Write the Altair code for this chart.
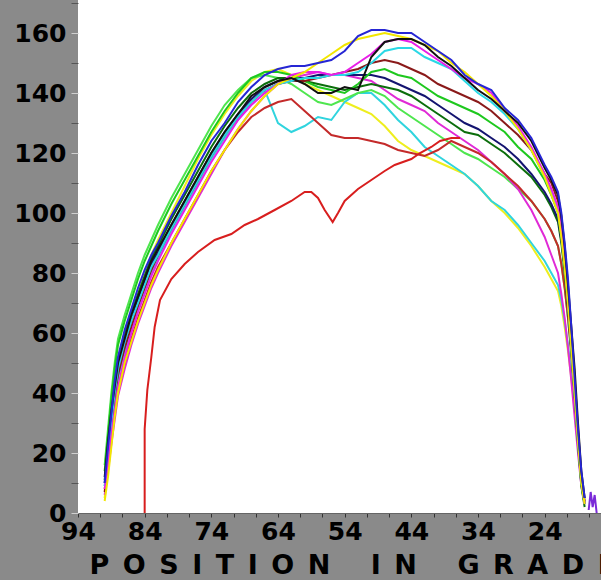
import altair as alt
import pandas as pd

# shared x grid (position in grad), decreasing
X = [90, 89.5, 89, 88.5, 88, 87, 86, 85, 84, 83, 82, 80, 78, 76, 74, 72, 70, 68, 66, 64,
     62, 60, 58, 56, 54, 52, 50, 48, 46, 44, 42, 40, 38, 36, 34, 32, 30, 28, 26, 24,
     23, 22, 21.5, 21, 20.5, 20, 19.5, 19, 18.5, 18]

blue = [10, 22, 33, 44, 52, 61, 68, 75, 81, 86, 90, 99, 107, 116, 124, 130, 137, 142, 146, 148,
        149, 149, 150, 151, 154, 159, 161, 161, 160, 160, 157, 154, 151, 146, 143, 141, 135, 131, 125, 116,
        112, 107, 100, 90, 78, 62, 45, 28, 14, 5]
black = [12, 24, 34, 42, 50, 58, 66, 72, 78, 84, 88, 96, 104, 112, 120, 127, 133, 139, 142, 144,
         145, 143, 140, 140, 142, 141, 152, 157, 158, 158, 156, 152, 149, 145, 141, 138, 134, 130, 124, 115,
         111, 106, 99, 89, 76, 62, 48, 30, 14, 5]
yellow = [4, 12, 22, 32, 40, 50, 57, 64, 70, 76, 81, 90, 98, 106, 114, 121, 128, 134, 139, 143,
          145, 147, 150, 153, 156, 158, 159, 160, 159, 158, 156, 154, 150, 147, 143, 139, 134, 128, 121, 112,
          106, 100, 92, 82, 70, 55, 40, 24, 10, 3]
magenta = [8, 16, 26, 34, 42, 52, 60, 67, 73, 79, 84, 93, 101, 109, 117, 124, 131, 136, 140, 143,
           146, 147, 147, 146, 147, 150, 153, 157, 158, 157, 154, 151, 148, 145, 143, 140, 134, 129, 122, 113,
           108, 102, 94, 84, 71, 57, 41, 25, 11, 3]
cyan = [9, 19, 30, 40, 48, 57, 64, 70, 76, 82, 86, 95, 103, 111, 119, 126, 132, 137, 141, 143,
        144, 145, 145, 146, 146, 147, 150, 154, 155, 155, 152, 150, 148, 144, 140, 137, 133, 128, 121, 112,
        107, 101, 93, 83, 70, 55, 40, 24, 10, 3]
brown = [7, 17, 28, 38, 46, 55, 62, 69, 75, 81, 86, 95, 103, 111, 119, 126, 132, 137, 141, 143,
         144, 144, 145, 146, 147, 148, 150, 151, 150, 148, 146, 143, 141, 139, 137, 134, 130, 126, 121, 113,
         110, 104, 97, 87, 74, 60, 44, 27, 12, 4]
green = [14, 26, 38, 48, 56, 64, 71, 78, 84, 89, 94, 103, 111, 119, 127, 134, 140, 145, 147, 147,
         146, 144, 142, 141, 140, 143, 147, 148, 146, 145, 142, 139, 137, 135, 133, 130, 127, 122, 118, 111,
         106, 100, 92, 82, 70, 56, 40, 24, 10, 3]
navy = [10, 20, 31, 40, 48, 57, 64, 71, 77, 83, 87, 96, 104, 112, 120, 127, 133, 138, 142, 144,
        145, 145, 146, 146, 146, 146, 146, 145, 143, 141, 139, 136, 133, 130, 128, 125, 122, 118, 113, 107,
        103, 98, 91, 82, 70, 56, 41, 25, 11, 3]
darkgreen = [11, 22, 33, 43, 51, 60, 67, 73, 79, 85, 89, 98, 106, 114, 122, 129, 135, 140, 143, 145,
             145, 144, 143, 142, 141, 142, 143, 142, 141, 139, 136, 133, 130, 127, 126, 123, 120, 116, 112, 106,
             102, 97, 90, 80, 68, 54, 39, 23, 9, 2]
magenta2 = [6, 14, 23, 31, 39, 48, 56, 63, 69, 75, 80, 89, 97, 105, 113, 121, 128, 134, 139, 143,
            145, 146, 147, 146, 146, 145, 144, 141, 138, 136, 134, 130, 127, 124, 121, 117, 113, 108, 101, 92,
            86, 80, 73, 65, 55, 44, 32, 20, 9, 3]
lime = [16, 28, 40, 50, 58, 66, 73, 80, 86, 91, 96, 105, 113, 121, 129, 136, 141, 145, 146, 145,
        143, 140, 137, 136, 138, 140, 141, 139, 135, 132, 129, 126, 123, 120, 118, 115, 112, 108, 104, 98,
        94, 89, 83, 75, 65, 53, 39, 24, 10, 3]
cyan2 = [9, 18, 28, 37, 45, 54, 61, 68, 74, 80, 85, 94, 102, 110, 118, 125, 131, 137, 141, 130,
         127, 129, 132, 131, 137, 140, 140, 136, 131, 127, 122, 119, 116, 113, 109, 104, 101, 96, 90, 84,
         80, 76, 71, 64, 56, 46, 35, 22, 10, 3]
yellow2 = [5, 15, 27, 38, 48, 58, 66, 73, 80, 86, 91, 100, 109, 118, 126, 133, 139, 144, 147, 148,
           146, 143, 141, 139, 137, 135, 133, 129, 124, 121, 119, 117, 115, 113, 109, 104, 100, 95, 89, 82,
           78, 74, 69, 62, 54, 45, 34, 22, 10, 3]
red = [8, 15, 24, 33, 41, 50, 58, 65, 71, 77, 82, 90, 98, 106, 114, 121, 127, 132, 135, 137,
       138, 134, 130, 126, 125, 125, 124, 123, 121, 120, 119, 121, 124, 122, 120, 117, 113, 109, 104, 98,
       94, 89, 83, 75, 65, 53, 39, 24, 10, 3]

# low red curve with its own x positions
XR = [84, 84, 83.6, 83, 82.5, 81.7, 80, 78, 76, 73.5, 71, 69, 67, 64.5, 62, 60, 59, 58, 57, 55.8,
      55, 54, 52, 50, 48, 46.5, 44, 42.7, 41, 39.7, 38, 36.7]
red2 = [0, 28, 41, 52, 62, 71, 78, 83, 87, 91, 93, 96, 98, 101, 104, 107, 107, 105, 101, 97,
        100, 104, 108, 111, 114, 116, 118, 120, 122, 124, 125, 125]

# small trailing stub at the far right
XS = [17.4, 17.1, 16.8, 16.5, 16.2]
stub = [1, 7, 2, 6, 0]

series = [
    ("yellow2", X, yellow2, "#eeee1e"),
    ("cyan2", X, cyan2, "#30d4de"),
    ("lime", X, lime, "#4ee64e"),
    ("magenta2", X, magenta2, "#e02ad6"),
    ("red", X, red, "#c42a2a"),
    ("red2", XR, red2, "#d81e1e"),
    ("darkgreen", X, darkgreen, "#0c6e0c"),
    ("navy", X, navy, "#141470"),
    ("green", X, green, "#1ec81e"),
    ("brown", X, brown, "#8a1a1a"),
    ("cyan", X, cyan, "#2ad8e6"),
    ("magenta", X, magenta, "#e81ee8"),
    ("yellow", X, yellow, "#f2e600"),
    ("black", X, black, "#111111"),
    ("blue", X, blue, "#2626d4"),
    ("stub", XS, stub, "#7a2ad8"),
]

rows = []
for name, xs, ys, _ in series:
    for i, (xv, yv) in enumerate(zip(xs, ys)):
        rows.append({"s": name, "x": xv, "y": yv, "i": i})
df = pd.DataFrame(rows)

names = [s[0] for s in series]
colors = [s[3] for s in series]

xticks = [round(94 - k * 10 / 3, 4) for k in range(25)]
yticks = list(range(0, 171, 10))

sp = "\u2002"
wsp = "\u2002\u2002\u2002"
TITLE = wsp.join(sp.join(w) for w in ["POSITION", "IN", "GRADES"])

FONT = "DejaVu Sans"

chart = alt.Chart(df).mark_line(strokeWidth=2).encode(
    x=alt.X("x:Q",
            scale=alt.Scale(domain=[15.55, 94], reverse=True, nice=False, zero=False),
            axis=alt.Axis(values=xticks,
                          labelExpr="(round(datum.value*3) % 30 == 12) ? format(datum.value, 'd') : ''",
                          title=TITLE, titleX=11, titleY=60, titleAlign="left",
                          titleBaseline="alphabetic", titleFont=FONT, titleFontSize=27,
                          titleFontWeight="bold", titleColor="black",
                          labelFont=FONT, labelFontSize=25, labelFontWeight="bold",
                          labelColor="black", labelPadding=2, labelFlush=False,
                          labelOverlap=False, labelBound=False,
                          tickSize=4, tickColor="#333333", domainColor="#666666",
                          grid=False)),
    y=alt.Y("y:Q",
            scale=alt.Scale(domain=[0, 171], nice=False),
            axis=alt.Axis(values=yticks,
                          labelExpr="datum.value % 20 == 0 ? datum.label : ''",
                          title=None, domain=False, grid=False,
                          tickSize=7,
                          tickColor=alt.condition("datum.value % 20 == 0",
                                                  alt.value("#cfcfcf"), alt.value("#555555")),
                          labelPadding=5, labelFont=FONT, labelFontSize=25,
                          labelFontWeight="bold", labelColor="black",
                          labelOverlap=False, labelFlush=False)),
    color=alt.Color("s:N", scale=alt.Scale(domain=names, range=colors), legend=None),
    order=alt.Order("i:Q"),
).properties(
    width=523, height=513,
    autosize=alt.AutoSizeParams(type="none"),
    padding={"left": 78, "top": 0, "right": 0, "bottom": 67},
    background="#8a8a8a",
).configure_view(fill="white", stroke=None)

chart.save("out.html", embed_options={"renderer": "svg", "actions": False})
